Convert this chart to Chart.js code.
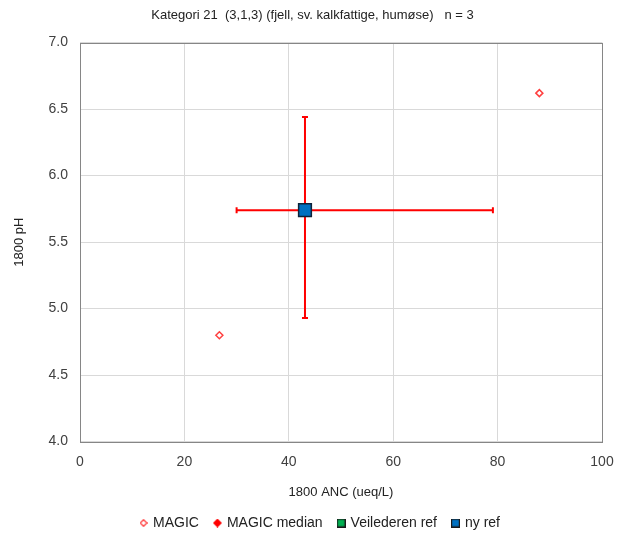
<!DOCTYPE html>
<html>
<head>
<meta charset="utf-8">
<script src="https://cdn.jsdelivr.net/npm/chart.js@4"></script>
<style>
  html, body { margin: 0; padding: 0; background: #fff; }
  #wrap { width: 617px; height: 536px; }
</style>
</head>
<body>
<div id="wrap"><canvas id="c"></canvas></div>
<script>
// values
const magicX = [26.7, 88.0, 43.1];
const magicY = [4.80, 6.62, 5.74];
const medianX = [43.1];
const medianY = [5.74];
const medianXErr = [30.0, 79.1];   // min / max of horizontal bar
const medianYErr = [4.93, 6.44];   // min / max of vertical bar
const veilX = [];
const veilY = [];
const nyRefX = [43.1];
const nyRefY = [5.74];
const xTicks = [0, 20, 40, 60, 80, 100];
const yTicks = [4.0, 4.5, 5.0, 5.5, 6.0, 6.5, 7.0];

const pts = (xs, ys) => xs.map((x, i) => ({ x: x, y: ys[i] }));

// small marker pictures for the legend
function marker(kind, size, fill, stroke, lw) {
  const c = document.createElement('canvas');
  c.width = size; c.height = size;
  const g = c.getContext('2d');
  const h = size / 2;
  g.beginPath();
  if (kind === 'diamond') {
    g.moveTo(h, lw / 2); g.lineTo(size - lw / 2, h); g.lineTo(h, size - lw / 2); g.lineTo(lw / 2, h);
    g.closePath();
  } else {
    g.rect(lw / 2, lw / 2, size - lw, size - lw);
  }
  g.fillStyle = fill; g.fill();
  if (lw) { g.lineWidth = lw; g.strokeStyle = stroke; g.stroke(); }
  return c;
}
const legendMarks = [
  marker('diamond', 8, '#ffffff', '#ff5050', 1.5),
  marker('diamond', 9, '#ff0000', '#ff0000', 0),
  marker('square', 9, '#00b050', '#1a1a1a', 1.2),
  marker('square', 9, '#0070c0', '#1a1a1a', 1.2)
];

const errorBars = {
  id: 'errorBars',
  beforeDatasetsDraw(chart) {
    const { ctx, scales: { x, y } } = chart;
    const cx = x.getPixelForValue(medianX[0]);
    const cy = y.getPixelForValue(medianY[0]);
    const cap = 3;
    ctx.save();
    ctx.strokeStyle = '#ff0000';
    ctx.lineWidth = 2;
    ctx.beginPath();
    const x0 = x.getPixelForValue(medianXErr[0]), x1 = x.getPixelForValue(medianXErr[1]);
    const y0 = y.getPixelForValue(medianYErr[0]), y1 = y.getPixelForValue(medianYErr[1]);
    ctx.moveTo(x0, cy); ctx.lineTo(x1, cy);
    ctx.moveTo(x0, cy - cap); ctx.lineTo(x0, cy + cap);
    ctx.moveTo(x1, cy - cap); ctx.lineTo(x1, cy + cap);
    ctx.moveTo(cx, y0); ctx.lineTo(cx, y1);
    ctx.moveTo(cx - cap, y0); ctx.lineTo(cx + cap, y0);
    ctx.moveTo(cx - cap, y1); ctx.lineTo(cx + cap, y1);
    ctx.stroke();
    ctx.restore();
  }
};

const frame = {
  id: 'frame',
  afterLayout(chart) {
    // nudge the legend a little to the right, like the original
    if (chart.legend) { chart.legend.left += 8; chart.legend.right += 8; }
  },
  afterDraw(chart) {
    const { ctx, chartArea: a } = chart;
    ctx.save();
    ctx.strokeStyle = '#868686';
    ctx.lineWidth = 1;
    ctx.strokeRect(Math.round(a.left) + 0.5, Math.round(a.top) + 0.5,
      Math.round(a.right - a.left), Math.round(a.bottom - a.top));
    ctx.restore();
  }
};

Chart.defaults.font.family = '"Liberation Sans", Arial, sans-serif';
Chart.defaults.color = '#404040';

new Chart(document.getElementById('c'), {
  type: 'scatter',
  data: {
    datasets: [
      {
        label: 'MAGIC',
        data: pts(magicX, magicY),
        pointStyle: 'rectRot',
        pointRadius: 3.5,
        pointBorderWidth: 1.5,
        borderColor: '#ff4040',
        backgroundColor: '#ffffff',
        order: 3
      },
      {
        label: 'MAGIC median',
        data: pts(medianX, medianY),
        pointStyle: 'rectRot',
        pointRadius: 4,
        borderColor: '#ff0000',
        backgroundColor: '#ff0000',
        order: 2
      },
      {
        label: 'Veilederen ref',
        data: pts(veilX, veilY),
        pointStyle: 'rect',
        pointRadius: 8,
        borderColor: '#1f3a2a',
        backgroundColor: '#00b050',
        order: 1
      },
      {
        label: 'ny ref',
        data: pts(nyRefX, nyRefY),
        pointStyle: 'rect',
        pointRadius: 9,
        pointBorderWidth: 1.5,
        borderColor: '#0d2238',
        backgroundColor: '#0070c0',
        order: 0
      }
    ]
  },
  options: {
    responsive: true,
    maintainAspectRatio: false,
    animation: false,
    layout: { padding: { left: 8, right: 0, top: 0, bottom: -4 } },
    plugins: {
      title: {
        display: true,
        text: 'Kategori 21  (3,1,3) (fjell, sv. kalkfattige, humøse)   n = 3',
        color: '#222',
        font: { size: 13, weight: 'normal' },
        padding: { top: 8, bottom: 19 }
      },
      legend: {
        position: 'bottom',
        labels: {
          usePointStyle: true,
          boxWidth: 5,
          boxHeight: 9,
          color: '#222',
          font: { size: 14 },
          padding: 16,
          sort: (a, b) => a.datasetIndex - b.datasetIndex,
          generateLabels(chart) {
            const items = Chart.defaults.plugins.legend.labels.generateLabels(chart);
            items.forEach(it => { it.pointStyle = legendMarks[it.datasetIndex]; });
            return items;
          }
        }
      },
      tooltip: { enabled: false }
    },
    scales: {
      x: {
        min: 0, max: 100,
        afterBuildTicks: s => { s.ticks = xTicks.map(v => ({ value: v })); },
        afterFit: s => { s.paddingRight = 15; },
        grid: { color: '#d9d9d9', drawTicks: false },
        border: { display: false },
        ticks: { color: '#404040', font: { size: 14 }, padding: 12 },
        title: { display: true, text: '1800 ANC (ueq/L)', color: '#222', font: { size: 13 }, padding: { top: 2, bottom: 0 } }
      },
      y: {
        min: 4, max: 7,
        afterBuildTicks: s => { s.ticks = yTicks.map(v => ({ value: v })); },
        afterFit: s => { s.width = 72; },
        grid: { color: '#d9d9d9', drawTicks: false },
        border: { display: false },
        ticks: { color: '#404040', font: { size: 14 }, padding: 12, callback: v => Number(v).toFixed(1) },
        title: { display: true, text: '1800 pH', color: '#222', font: { size: 13 }, padding: { bottom: 4 } }
      }
    }
  },
  plugins: [errorBars, frame]
});
</script>
</body>
</html>
